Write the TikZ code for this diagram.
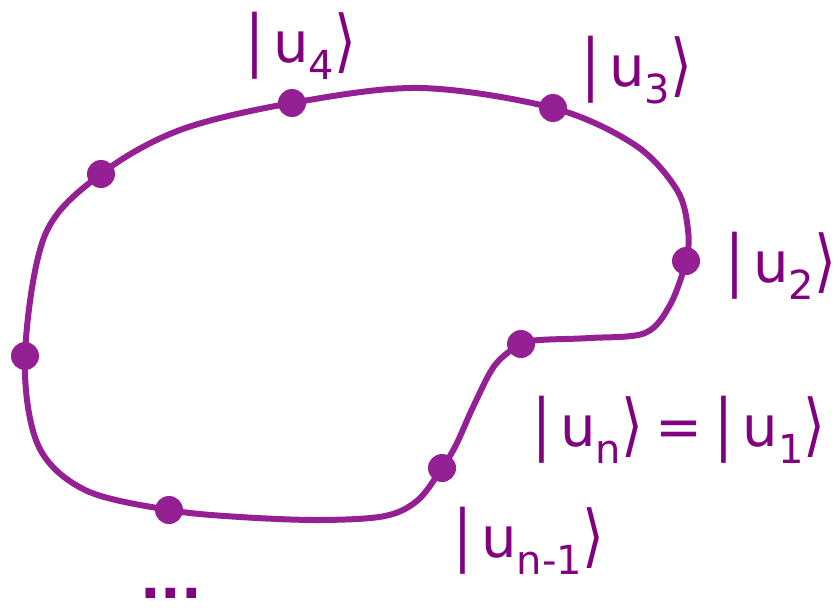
\documentclass[tikz,border=0pt]{standalone}
\usepackage{fontspec}
\setmainfont{DejaVu Sans}
\definecolor{txt}{RGB}{128,0,128}
\definecolor{crv}{RGB}{148,32,148}
\newcommand{\mybar}{\raisebox{-0.02em}{\scalebox{1}[1.2]{|}}}
\newcommand{\myrang}{\raisebox{-0.03em}{\scalebox{1}[1.22]{⟩}}}
\newcommand{\myket}[1]{\mybar\,u\raisebox{-0.3em}{\fontsize{40}{42}\selectfont #1}\myrang}
\tikzset{
  dotpt/.style={circle,fill=crv,inner sep=0pt,minimum size=28pt},
  lbl/.style={text=txt,inner sep=0pt,anchor=west,font=\fontsize{56}{62}\selectfont},
  loop/.style={draw=crv,line width=6pt}
}
\begin{document}
\begin{tikzpicture}[x=1pt,y=-1pt]
\useasboundingbox (0,0) rectangle (838,610);
\draw[loop] plot[smooth cycle,tension=0.55] coordinates {
 (25,356) (45,235) (101,174) (180,130) (292,103) (420,88) (553,108)
 (635,145) (677,190) (688,230) (686,261) (670,305) (645,333) (590,338) (540,340) (521,344)
 (495,365) (474,405) (456,445) (442,468) (418,500) (385,516) (320,520) (240,517) (169,510)
 (85,490) (38,445)};
\node[dotpt] (d4) at (292,103) {};
\node[dotpt] (d3) at (553,108) {};
\node[dotpt] (d5) at (101,174) {};
\node[dotpt] (d2) at (686,261) {};
\node[dotpt] (d1) at (521,344) {};
\node[dotpt] (d6) at (25,356) {};
\node[dotpt] (dn1) at (442,468) {};
\node[dotpt] (d7) at (169,510) {};
\node[lbl] (l4) at (245,46) {\myket{4}};
\node[lbl] (l3) at (581,70) {\myket{3}};
\node[lbl] (l2) at (725,266) {\myket{2}};
\node[lbl] (l1) at (532,430) {\myket{n}\hspace{0.22em}=\hspace{0.22em}\myket{1}};
\node[lbl] (ln1) at (453,541) {\myket{n-1}};
\node[text=txt,inner sep=0pt,anchor=base west,font=\bfseries\fontsize{54}{60}\selectfont] (dots) at (140,598) {...};
\end{tikzpicture}
\end{document}
